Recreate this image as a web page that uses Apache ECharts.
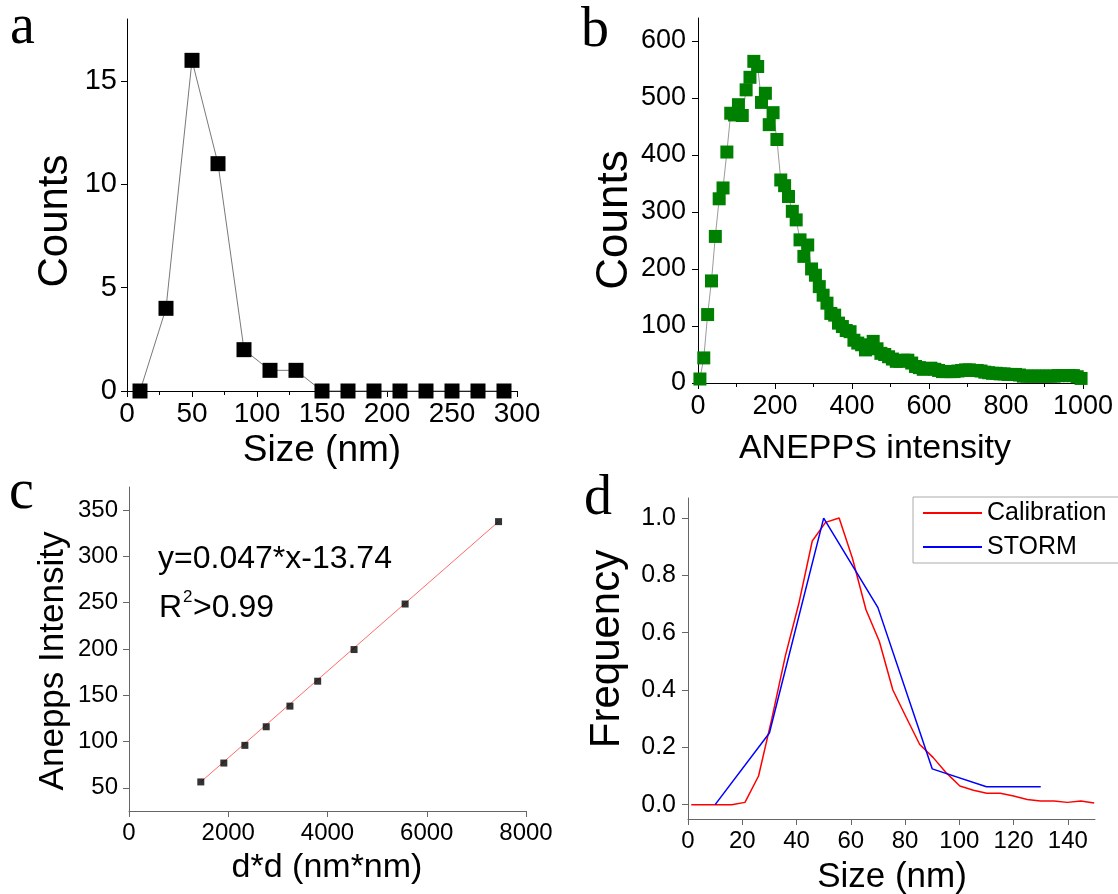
<!DOCTYPE html>
<html><head><meta charset="utf-8">
<script src="https://cdn.jsdelivr.net/npm/echarts@6/dist/echarts.min.js"></script>
<style>html,body{margin:0;padding:0;background:#fff}#c{width:1118px;height:894px}</style>
</head><body><div id="c"></div>
<script>
// ---------- DATA ----------
// Panel a
const sizeA   = [10,30,50,70,90,110,130,150,170,190,210,230,250,270,290];
const countsA = [0,4,16,11,2,1,1,0,0,0,0,0,0,0,0];
const ticksAY = [0,5,10,15];
// Panel b
const intensityB = [5,15,25,35,45,55,65,75,85,95,105,115,125,135,145,155,165,175,185,195,
  205,215,225,235,245,255,265,275,285,295,305,315,325,335,345,355,365,375,385,395,
  405,415,425,435,445,455,465,475,485,495,505,515,525,535,545,555,565,575,585,595,
  605,615,625,635,645,655,665,675,685,695,705,715,725,735,745,755,765,775,785,795,
  805,815,825,835,845,855,865,875,885,895,905,915,925,935,945,955,965,975,985,995];
const countsB = [7,44,120,179,257,323,342,405,473,470,488,469,514,536,564,555,492,508,453,474,
  427,356,346,327,301,286,251,222,242,200,189,169,154,140,122,119,105,99,92,90,
  75,70,67,58,62,73,60,52,50,46,42,38,38,40,40,35,29,27,24,25,
  26,24,22,20,20,20,20,21,22,23,23,22,22,21,19,18,17,17,16,16,
  15,15,15,14,12,12,12,12,12,12,12,12,12,13,13,13,13,13,11,8];
const ticksBY = [0,100,200,300,400,500,600];
// Panel c
const dsqC  = [1447,1911,2335,2765,3243,3802,4535,5564,7447];
const anepC = [56.4,76.8,95.9,116,138.3,165.2,199.4,248.6,337.6];
const fitX  = [1447,7447];
const fitY  = [56.4,337.6];
const ticksCY = [50,100,150,200,250,300,350];
// Panel d
const calX = [1.2,6.2,11.1,16.1,21.0,26.0,30.9,35.9,40.8,45.8,50.7,55.7,60.6,65.6,70.5,75.5,
  80.4,85.4,90.3,95.3,100.2,105.2,110.1,115.1,120.0,125.0,129.9,134.9,139.8,144.8,149.7];
const calY = [0,0,0,0,0.008,0.10,0.30,0.52,0.70,0.92,0.985,1.0,0.86,0.68,0.57,0.40,
  0.305,0.21,0.165,0.11,0.065,0.05,0.04,0.04,0.03,0.018,0.013,0.013,0.008,0.013,0.006];
const stormX = [10,30,50,70,90,110,130];
const stormY = [0,0.25,1,0.6875,0.125,0.0625,0.0625];
const ticksDY = [0,0.2,0.4,0.6,0.8,1.0];
const ticksDX = [0,20,40,60,80,100,120,140];

// ---------- STYLE ----------
const SANS = "'Liberation Sans',Arial,sans-serif";
const SERIF = "'Liberation Serif','Times New Roman',serif";

const zip = (xs, ys) => xs.map((x, i) => [x, ys[i]]);

function axis(o) {
  const a = {
    type: 'value', gridIndex: o.grid, min: o.min, max: o.max,
    splitLine: {show: false},
    axisLine: {show: true, onZero: false, lineStyle: {color: o.color, width: 1}},
    axisTick: {show: true, inside: false, length: 6, lineStyle: {color: o.color}},
    axisLabel: {show: true, color: '#000', fontFamily: SANS, fontSize: o.fs, margin: o.margin,
      showMinLabel: true, showMaxLabel: true, formatter: o.fmt || (v => String(v))},
    minorTick: {show: !!o.minor, splitNumber: 2, length: 4, lineStyle: {color: o.color}}
  };
  if (o.interval !== undefined) a.interval = o.interval;
  if (o.custom) { a.axisLabel.customValues = o.custom; a.axisTick.customValues = o.custom; }
  return a;
}

function txt(text, x, y, fs, font, rot, align) {
  return {
    type: 'text', x: x, y: y, rotation: rot || 0, silent: true,
    style: {text: text, fontSize: fs, fontFamily: font, fill: '#000', align: align || 'center', verticalAlign: 'middle'}
  };
}

const chart = echarts.init(document.getElementById('c'), null, {renderer: 'canvas'});
chart.setOption({
  animation: false,
  backgroundColor: '#fff',
  grid: [
    {left: 127, top: 19, width: 390, height: 372},
    {left: 698, top: 18, width: 385, height: 365},
    {left: 129, top: 487, width: 397, height: 324},
    {left: 688, top: 498, width: 407, height: 321}
  ],
  xAxis: [
    axis({grid: 0, min: 0, max: 300, interval: 50, minor: true, color: '#000', fs: 28, margin: 9}),
    axis({grid: 1, min: 0, max: 1000, interval: 200, minor: true, color: '#000', fs: 27, margin: 10}),
    axis({grid: 2, min: 0, max: 8000, interval: 2000, color: '#666', fs: 24, margin: 10}),
    axis({grid: 3, min: 0, max: 150, custom: ticksDX, color: '#666', fs: 24, margin: 10})
  ],
  yAxis: [
    axis({grid: 0, min: 0, max: 18, custom: ticksAY, color: '#000', fs: 29, margin: 10}),
    axis({grid: 1, min: 0, max: 640, custom: ticksBY, color: '#000', fs: 27, margin: 12}),
    axis({grid: 2, min: 25, max: 375, custom: ticksCY, color: '#666', fs: 24, margin: 11}),
    axis({grid: 3, min: -0.05, max: 1.07, custom: ticksDY, color: '#666', fs: 25, margin: 12,
      fmt: v => v.toFixed(1)})
  ],
  legend: {
    data: [{name: 'Calibration', icon: 'rect'}, {name: 'STORM', icon: 'rect'}],
    left: 913, top: 497, orient: 'vertical',
    padding: [3, 12, 3, 10], itemWidth: 59, itemHeight: 2, itemGap: 8,
    borderColor: '#aaa', borderWidth: 1, backgroundColor: '#fff', borderRadius: 0,
    textStyle: {fontFamily: SANS, fontSize: 25, lineHeight: 26, color: '#000'}
  },
  series: [
    {type: 'line', xAxisIndex: 0, yAxisIndex: 0, data: zip(sizeA, countsA),
     symbol: 'rect', symbolSize: 15, itemStyle: {color: '#000'},
     lineStyle: {color: '#555', width: 0.8}, clip: false},
    {type: 'line', xAxisIndex: 1, yAxisIndex: 1, data: zip(intensityB, countsB),
     symbol: 'rect', symbolSize: 13, itemStyle: {color: '#008000'},
     lineStyle: {color: '#555', width: 0.6}, clip: false},
    {type: 'line', xAxisIndex: 2, yAxisIndex: 2, data: zip(fitX, fitY),
     symbol: 'none', lineStyle: {color: '#ff6b6b', width: 1}},
    {type: 'scatter', xAxisIndex: 2, yAxisIndex: 2, data: zip(dsqC, anepC),
     symbol: 'rect', symbolSize: 7, itemStyle: {color: '#000'}, z: 5},
    {name: 'Calibration', type: 'line', xAxisIndex: 3, yAxisIndex: 3, data: zip(calX, calY),
     symbol: 'none', lineStyle: {color: '#ff0000', width: 1.5}, itemStyle: {color: '#ff0000'}},
    {name: 'STORM', type: 'line', xAxisIndex: 3, yAxisIndex: 3, data: zip(stormX, stormY),
     symbol: 'none', lineStyle: {color: '#0000ff', width: 1.5}, itemStyle: {color: '#0000ff'}}
  ],
  graphic: [
    // panel letters
    txt('a', 10, 28, 56, SERIF, 0, 'left'),
    txt('b', 581, 31, 56, SERIF, 0, 'left'),
    txt('c', 9, 493, 56, SERIF, 0, 'left'),
    txt('d', 584, 499, 56, SERIF, 0, 'left'),
    // axis titles
    txt('Counts', 55, 221, 42, SANS, Math.PI / 2),
    txt('Size (nm)', 322, 451, 37, SANS),
    txt('Counts', 615, 220, 44, SANS, Math.PI / 2),
    txt('ANEPPS intensity', 875, 449, 34, SANS),
    txt('Anepps Intensity', 53, 661, 35, SANS, Math.PI / 2),
    txt('d*d (nm*nm)', 327, 868, 34, SANS),
    txt('Frequency', 607, 649, 42, SANS, Math.PI / 2),
    txt('Size (nm)', 892, 877, 35, SANS),
    // annotation in c
    txt('y=0.047*x-13.74', 158, 559, 32, SANS, 0, 'left'),
    txt('R', 159, 608, 32, SANS, 0, 'left'),
    txt('2', 183, 597, 17, SANS, 0, 'left'),
    txt('>0.99', 193, 608, 32, SANS, 0, 'left')
  ]
});
</script></body></html>
